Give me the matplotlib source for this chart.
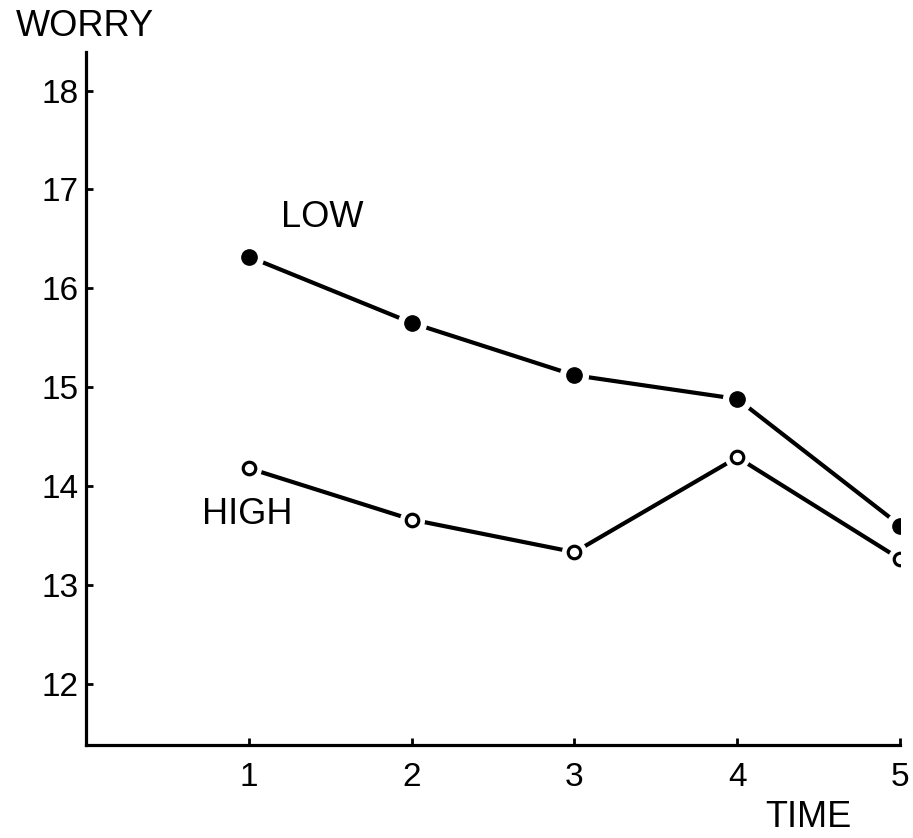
import matplotlib.pyplot as plt

plt.rcParams['font.family'] = ['Liberation Sans', 'DejaVu Sans']

time = [1, 2, 3, 4, 5]
low = [16.32, 15.65, 15.12, 14.88, 13.60]
high = [14.18, 13.66, 13.33, 14.29, 13.26]
yticks = [12, 13, 14, 15, 16, 17, 18]

fig = plt.figure(figsize=(9.13, 8.38), dpi=100)
ax = fig.add_axes([0.094, 0.111, 0.892, 0.827])

# lines, with a white halo round each point to leave the little gaps
ax.plot(time, low, color='black', lw=3, zorder=2)
ax.plot(time, high, color='black', lw=3, zorder=2)
ax.plot(time, low, 'o', color='white', ms=20, zorder=3)
ax.plot(time, high, 'o', color='white', ms=17, zorder=3)
ax.plot(time, low, 'o', color='black', ms=11, zorder=4)
ax.plot(time, high, 'o', mfc='white', mec='black', ms=9, mew=2.3, zorder=4)

ax.set_xlim(0, 5)
ax.set_ylim(11.38, 18.39)
ax.set_xticks(time)
ax.set_yticks(yticks)
ax.tick_params(direction='in', length=5, width=2, labelsize=24, pad=5)
ax.tick_params(axis='x', pad=12)

for s in ['top', 'right']:
    ax.spines[s].set_visible(False)
for s in ['left', 'bottom']:
    ax.spines[s].set_linewidth(2.3)
ax.patch.set_alpha(0)

fig.text(0.093, 0.968, 'WORRY', fontsize=26, ha='center', va='center')
fig.text(0.885, 0.024, 'TIME', fontsize=26, ha='center', va='center')
ax.text(1.45, 16.72, 'LOW', fontsize=26, ha='center', va='center')
ax.text(0.99, 13.71, 'HIGH', fontsize=26, ha='center', va='center')

plt.savefig('out.png', dpi=100)
